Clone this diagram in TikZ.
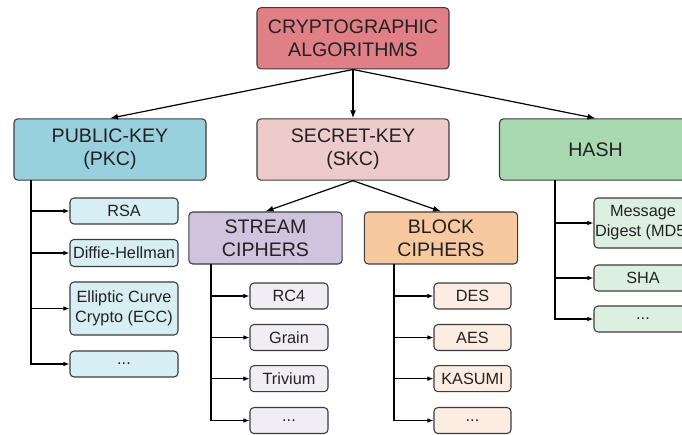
\documentclass[tikz,border=0pt]{standalone}
\usepackage{fontspec}
\setmainfont{Liberation Sans}
\usetikzlibrary{arrows.meta}

\definecolor{algred}{HTML}{E08086}
\definecolor{pkcblue}{HTML}{98D0DD}
\definecolor{skcpink}{HTML}{EECBCB}
\definecolor{hashgreen}{HTML}{A9D9B1}
\definecolor{streamlila}{HTML}{D0C3DD}
\definecolor{blockorange}{HTML}{F8C9A1}
\definecolor{pkcleaf}{HTML}{D6EEF4}
\definecolor{streamleaf}{HTML}{F0EEF4}
\definecolor{blockleaf}{HTML}{FDECE1}
\definecolor{hashleaf}{HTML}{DDEFE1}
\definecolor{bordo}{HTML}{3C3C3C}
\definecolor{testo}{HTML}{222222}

\begin{document}
\begin{tikzpicture}[x=0.75pt,y=-0.75pt,
    box/.style={draw=bordo, line width=0.8pt, rounded corners=3pt, align=center, inner sep=0pt, text=testo},
    bigbox/.style={box, minimum width=144pt, minimum height=46pt, font=\fontsize{14.7}{17.3}\selectfont},
    midbox/.style={box, minimum width=115pt, minimum height=39pt, font=\fontsize{14.7}{17.3}\selectfont},
    leaf/.style={box, minimum height=19.5pt, font=\fontsize{12.2}{15}\selectfont},
    freccia/.style={line width=0.9pt, -{Latex[length=6pt,width=4.5pt]}},
    ramo/.style={line width=0.9pt, -{Latex[length=4.5pt,width=3.5pt]}}]

    % Cornice dell'immagine
    \useasboundingbox (0,0) rectangle (682,435);
    \clip (0,0) rectangle (682,435);

    % Radice e tre famiglie
    \node[bigbox, fill=algred] (alg) at (353,38.3) {CRYPTOGRAPHIC\\ALGORITHMS};
    \node[bigbox, fill=pkcblue] (pkc) at (110,149.5) {PUBLIC-KEY\\(PKC)};
    \node[bigbox, fill=skcpink] (skc) at (353,149.5) {SECRET-KEY\\(SKC)};
    \node[bigbox, fill=hashgreen] (hash) at (595.5,149.5) {HASH};

    % Cifrari a chiave segreta
    \node[midbox, fill=streamlila] (stream) at (265.5,238) {STREAM\\CIPHERS};
    \node[midbox, fill=blockorange] (block) at (441,238) {BLOCK\\CIPHERS};

    % Foglie PKC
    \node[leaf, fill=pkcleaf, minimum width=81pt] (rsa) at (124,211) {RSA};
    \node[leaf, fill=pkcleaf, minimum width=81pt, minimum height=20.25pt] (dh) at (124,253) {Diffie-Hellman};
    \node[leaf, fill=pkcleaf, minimum width=81pt, minimum height=39.75pt] (ecc) at (124,308.5) {Elliptic Curve\\Crypto (ECC)};
    \node[leaf, fill=pkcleaf, minimum width=81pt] (pkcx) at (124,364) {...};

    % Foglie stream
    \node[leaf, fill=streamleaf, minimum width=58.5pt] (rc4) at (289,296) {RC4};
    \node[leaf, fill=streamleaf, minimum width=58.5pt] (grain) at (289,337.5) {Grain};
    \node[leaf, fill=streamleaf, minimum width=58.5pt] (triv) at (289,378.7) {Trivium};
    \node[leaf, fill=streamleaf, minimum width=58.5pt] (strx) at (289,420.5) {...};

    % Foglie block
    \node[leaf, fill=blockleaf, minimum width=57.75pt] (des) at (472.5,296) {DES};
    \node[leaf, fill=blockleaf, minimum width=57.75pt] (aes) at (472.5,337.5) {AES};
    \node[leaf, fill=blockleaf, minimum width=57.75pt] (kasumi) at (472.5,378.7) {KASUMI};
    \node[leaf, fill=blockleaf, minimum width=57.75pt] (blkx) at (472.5,420.5) {...};

    % Foglie hash
    \node[leaf, fill=hashleaf, minimum width=73.5pt, minimum height=37.5pt] (md) at (643,223) {Message\\Digest (MD5)};
    \node[leaf, fill=hashleaf, minimum width=73.5pt] (sha) at (643,278) {SHA};
    \node[leaf, fill=hashleaf, minimum width=73.5pt] (hashx) at (643,319) {...};

    % Frecce principali
    \draw[freccia] (alg.south) -- (pkc.north);
    \draw[freccia] (alg.south) -- (skc.north);
    \draw[freccia] (alg.south) -- (hash.north);
    \draw[freccia] (skc.south) -- (stream.north);
    \draw[freccia] (skc.south) -- (block.north);

    % Tronchi verticali
    \coordinate (pkcT) at (31,180);
    \coordinate (streamT) at (211,264);
    \coordinate (blockT) at (394,264);
    \coordinate (hashT) at (555,180);

    \foreach \f in {rsa,dh,ecc,pkcx} \draw[ramo] (pkcT) |- (\f.west);
    \foreach \f in {rc4,grain,triv,strx} \draw[ramo] (streamT) |- (\f.west);
    \foreach \f in {des,aes,kasumi,blkx} \draw[ramo] (blockT) |- (\f.west);
    \foreach \f in {md,sha,hashx} \draw[ramo] (hashT) |- (\f.west);
\end{tikzpicture}
\end{document}
